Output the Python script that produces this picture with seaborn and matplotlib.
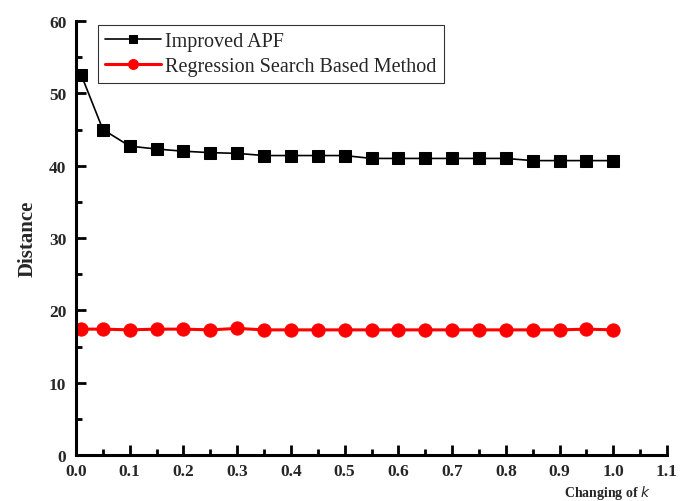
import matplotlib
matplotlib.use("Agg")
import matplotlib.pyplot as plt
from matplotlib.ticker import MultipleLocator
import seaborn as sns
import pandas as pd

# Weighting factor k
k_values = [0.01, 0.05, 0.10, 0.15, 0.20, 0.25, 0.30, 0.35, 0.40, 0.45, 0.50,
            0.55, 0.60, 0.65, 0.70, 0.75, 0.80, 0.85, 0.90, 0.95, 1.00]
# Path distance for each method
improved_apf = [52.5, 45.0, 42.7, 42.3, 42.0, 41.8, 41.7, 41.4, 41.4, 41.4, 41.4,
                41.0, 41.0, 41.0, 41.0, 41.0, 41.0, 40.7, 40.7, 40.7, 40.7]
regression_search = [17.4, 17.4, 17.3, 17.4, 17.4, 17.3, 17.5, 17.3, 17.3, 17.3, 17.3,
                     17.3, 17.3, 17.3, 17.3, 17.3, 17.3, 17.3, 17.3, 17.4, 17.3]
series_names = ["Improved APF", "Regression Search Based Method"]

df = pd.DataFrame({"k": k_values, "apf": improved_apf, "reg": regression_search})

sns.set_style("ticks")
plt.rcParams["font.family"] = ["Liberation Serif", "DejaVu Serif"]

fig = plt.figure(figsize=(6.8, 5.02), dpi=100)
ax = fig.add_axes([76 / 680, 1 - 456 / 502, (667 - 76) / 680, (456 - 22) / 502])

sns.lineplot(data=df, x="k", y="apf", ax=ax, color="black", marker="s",
             markersize=8.5, markeredgecolor="black", linewidth=1.2,
             label=series_names[0])
sns.lineplot(data=df, x="k", y="reg", ax=ax, color="#ff0000", marker="o",
             markersize=9.5, markeredgecolor="#ff0000", linewidth=2.2,
             label=series_names[1])

ax.set_xlim(0, 1.1)
ax.set_ylim(0, 60)
ax.xaxis.set_major_locator(MultipleLocator(0.1))
ax.xaxis.set_minor_locator(MultipleLocator(0.05))
ax.yaxis.set_major_locator(MultipleLocator(10))
ax.yaxis.set_minor_locator(MultipleLocator(5))
ax.set_xticklabels([f"{v:.1f}" for v in ax.get_xticks()])

for side in ("top", "right"):
    ax.spines[side].set_visible(False)
for side in ("left", "bottom"):
    ax.spines[side].set_linewidth(2.2)
    ax.spines[side].set_color("black")

ax.tick_params(which="major", direction="in", length=7, width=2, color="black",
               labelsize=12.5)
ax.tick_params(axis="x", which="major", pad=6)
ax.tick_params(axis="y", which="major", pad=7)
ax.tick_params(which="minor", direction="in", length=4, width=2, color="black")
for lbl in ax.get_xticklabels() + ax.get_yticklabels():
    lbl.set_fontweight("bold")

ax.set_xlabel("")
ax.set_ylabel("Distance", fontsize=15, fontweight="bold", labelpad=8)
fig.text(0.893, 0.018, r"Changing of $\mathbf{\mathit{k}}$", fontsize=10,
         fontweight="bold", ha="center", va="center")

leg = ax.legend(loc="upper left", bbox_to_anchor=(0.037, 0.99), fontsize=14.5,
                frameon=True, fancybox=False, edgecolor="black",
                handlelength=2.8, handletextpad=0.2, borderpad=0.35,
                labelspacing=0.25, borderaxespad=0, markerscale=0.75)
leg.get_frame().set_linewidth(0.8)

fig.savefig("out.png", dpi=100, facecolor="white")
